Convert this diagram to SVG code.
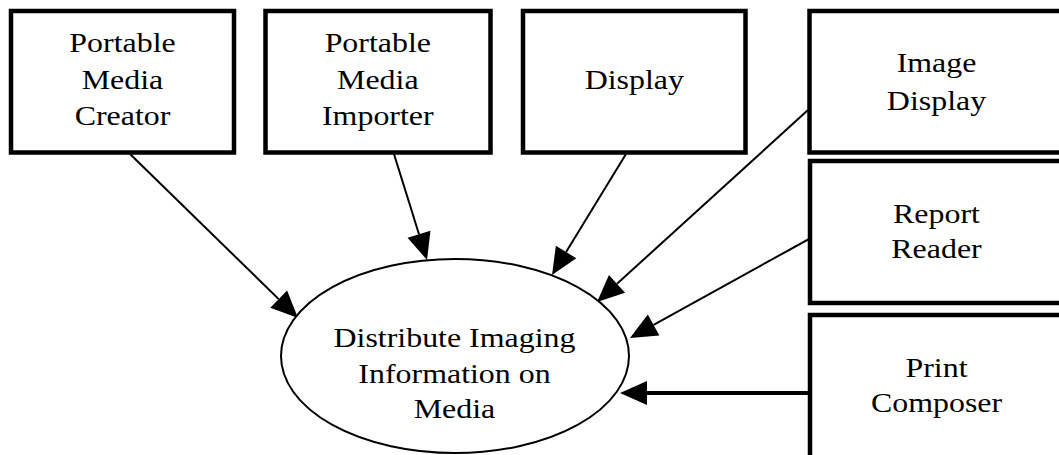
<svg xmlns="http://www.w3.org/2000/svg" width="1059" height="455" viewBox="0 0 1059 455">
<style>
.box{fill:#fff;stroke:#000;stroke-width:4.5}
.ell{fill:#fff;stroke:#000;stroke-width:2}
.t{font-family:"Liberation Serif","Times New Roman",serif;font-size:28px;fill:#000;text-anchor:middle}
.c{fill:none;stroke:#000;stroke-width:2}
.c4{fill:none;stroke:#000;stroke-width:4}
</style>
<defs>
<marker id="ah" markerUnits="userSpaceOnUse" markerWidth="27" markerHeight="24" refX="0" refY="12" orient="auto" overflow="visible">
<path d="M0,0 L27,12 L0,24 z" fill="#000"/>
</marker>
</defs>
<rect width="1059" height="455" fill="#fff"/>
<g id="connectors">
<line class="c" x1="130" y1="154" x2="278.7" y2="299.1" marker-end="url(#ah)"/>
<line class="c" x1="394" y1="154" x2="419" y2="234.2" marker-end="url(#ah)"/>
<line class="c" x1="626" y1="154" x2="566.1" y2="252" marker-end="url(#ah)"/>
<line class="c" x1="808" y1="110" x2="617" y2="283.8" marker-end="url(#ah)"/>
<line class="c" x1="809" y1="239" x2="653.6" y2="324.9" marker-end="url(#ah)"/>
<line class="c4" x1="810" y1="393" x2="647" y2="393" marker-end="url(#ah)"/>
</g>
<g id="pmc">
<rect class="box" x="11" y="11" width="223" height="141.5"/>
<g transform="translate(122.5 0) scale(1.14 1)">
<text class="t" x="0" y="52">Portable</text>
<text class="t" x="0" y="89">Media</text>
<text class="t" x="0" y="125.5">Creator</text>
</g>
</g>
<g id="pmi">
<rect class="box" x="265.5" y="11" width="225" height="141.5"/>
<g transform="translate(377.8 0) scale(1.14 1)">
<text class="t" x="0" y="52">Portable</text>
<text class="t" x="0" y="89">Media</text>
<text class="t" x="0" y="125.5">Importer</text>
</g>
</g>
<g id="display">
<rect class="box" x="523" y="11" width="222.5" height="141.5"/>
<g transform="translate(634.3 0) scale(1.14 1)">
<text class="t" x="0" y="89.5">Display</text>
</g>
</g>
<g id="imagedisplay">
<rect class="box" x="809.5" y="11" width="260" height="141.5"/>
<g transform="translate(936.5 0) scale(1.14 1)">
<text class="t" x="0" y="72.5">Image</text>
<text class="t" x="0" y="110">Display</text>
</g>
</g>
<g id="reportreader">
<rect class="box" x="810" y="161" width="260" height="142"/>
<g transform="translate(936.5 0) scale(1.14 1)">
<text class="t" x="0" y="223">Report</text>
<text class="t" x="0" y="258.5">Reader</text>
</g>
</g>
<g id="printcomposer">
<rect class="box" x="810" y="315" width="260" height="200"/>
<g transform="translate(936.5 0) scale(1.14 1)">
<text class="t" x="0" y="377">Print</text>
<text class="t" x="0" y="412">Composer</text>
</g>
</g>
<g id="distribute">
<ellipse class="ell" cx="455" cy="356" rx="174" ry="97"/>
<g transform="translate(454.5 0) scale(1.14 1)">
<text class="t" x="0" y="347">Distribute Imaging</text>
<text class="t" x="0" y="383.5">Information on</text>
<text class="t" x="0" y="418">Media</text>
</g>
</g>
</svg>
